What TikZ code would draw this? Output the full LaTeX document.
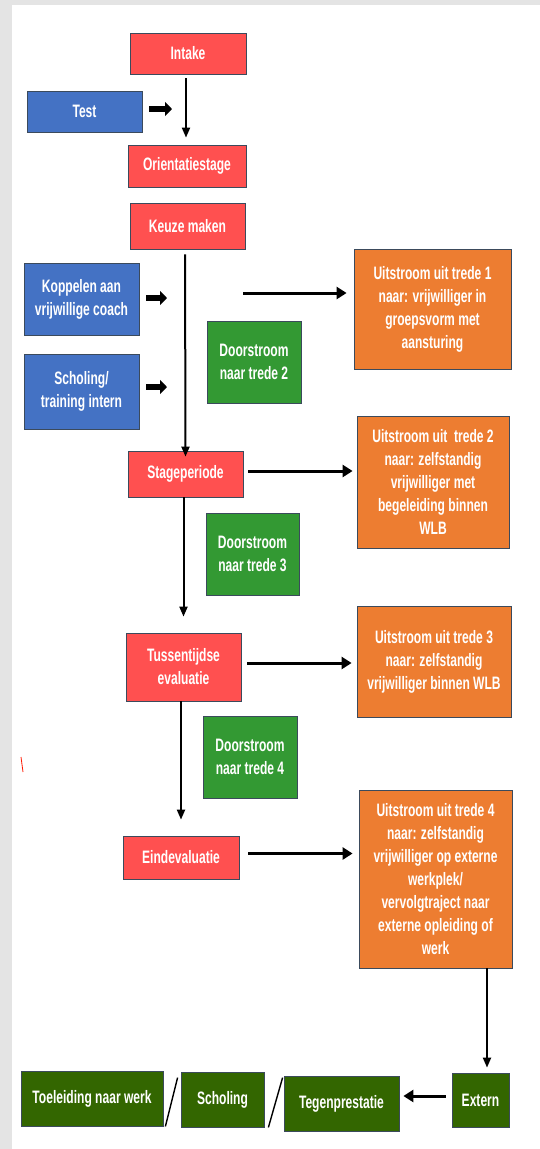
\documentclass[tikz,border=0pt]{standalone}
\usepackage{fontspec}
\setmainfont[FakeStretch=0.67]{Liberation Sans}
\usepackage{xcolor}
\usepackage{tikz}
\usetikzlibrary{arrows.meta, positioning, calc}

\definecolor{stepred}{HTML}{FF5050}
\definecolor{stepblue}{HTML}{4472C4}
\definecolor{steporange}{HTML}{ED7D31}
\definecolor{stepgreen}{HTML}{339933}
\definecolor{stepdark}{HTML}{336600}
\definecolor{boxline}{HTML}{3B4A5C}
\definecolor{pagegray}{HTML}{E4E4E4}

\begin{document}
\begin{tikzpicture}[
    x=1pt, y=-1pt,
    box/.style={draw=boxline, line width=0.8pt, text=white, align=center, inner sep=0pt,
        font=\bfseries\fontsize{18}{23}\selectfont},
    redbox/.style={box, fill=stepred},
    bluebox/.style={box, fill=stepblue},
    orangebox/.style={box, fill=steporange},
    greenbox/.style={box, fill=stepgreen},
    darkbox/.style={box, fill=stepdark},
    flow/.style={line width=2pt, -{Triangle[length=10pt,width=8pt]}},
    outflow/.style={line width=3pt, -{Triangle[length=10pt,width=12pt]}},
    fat/.style={line width=6pt, -{Triangle[length=7pt,width=14pt]}},
    slash/.style={line width=1.4pt}
]
    % Page
    \useasboundingbox (0,0) rectangle (540,1149);
    \fill[pagegray] (0,0) rectangle (540,1149);
    \fill[white] (12,5) rectangle (540,1149);

    % Route
    \node[redbox, minimum width=116pt, minimum height=41pt] (intake) at (188,53.5) {Intake};
    \node[bluebox, minimum width=115pt, minimum height=41pt] (test) at (84.5,111.5) {Test};
    \node[redbox, minimum width=118pt, minimum height=42pt] (orient) at (187,166) {Orientatiestage};
    \node[redbox, minimum width=115pt, minimum height=46pt] (keuze) at (187.5,226) {Keuze maken};
    \node[bluebox, minimum width=115pt, minimum height=72pt] (koppel) at (81.5,299) {Koppelen aan\\vrijwillige coach};
    \node[bluebox, minimum width=115pt, minimum height=75pt] (scholing) at (81.5,391.5) {Scholing/\\training intern};
    \node[redbox, minimum width=115pt, minimum height=46pt] (stage) at (185.5,474) {Stageperiode};
    \node[redbox, minimum width=115pt, minimum height=68pt] (tussen) at (183.5,667) {Tussentijdse\\evaluatie};
    \node[redbox, minimum width=116pt, minimum height=43pt] (einde) at (181,857.5) {Eindevaluatie};

    % Doorstroom
    \node[greenbox, minimum width=94pt, minimum height=82pt] (door2) at (254,362) {Doorstroom\\naar trede 2};
    \node[greenbox, minimum width=93pt, minimum height=82pt] (door3) at (252.5,554) {Doorstroom\\naar trede 3};
    \node[greenbox, minimum width=94pt, minimum height=82pt] (door4) at (250,757) {Doorstroom\\naar trede 4};

    % Uitstroom
    \node[orangebox, minimum width=157pt, minimum height=120pt] (uit1) at (432.5,309)
        {Uitstroom uit trede 1\\naar: vrijwilliger in\\groepsvorm met\\aansturing};
    \node[orangebox, minimum width=152pt, minimum height=132pt] (uit2) at (433,482)
        {Uitstroom uit\ \ trede 2\\naar: zelfstandig\\vrijwilliger met\\begeleiding binnen\\WLB};
    \node[orangebox, minimum width=154pt, minimum height=111pt] (uit3) at (434,661.5)
        {Uitstroom uit trede 3\\naar: zelfstandig\\vrijwilliger binnen WLB};
    \node[orangebox, minimum width=153pt, minimum height=178pt] (uit4) at (435.5,879)
        {Uitstroom uit trede 4\\naar: zelfstandig\\vrijwilliger op externe\\werkplek/\\vervolgtraject naar\\externe opleiding of\\werk};

    % Extern
    \node[darkbox, minimum width=57pt, minimum height=54pt] (extern) at (480.5,1100) {Extern};
    \node[darkbox, minimum width=115pt, minimum height=55pt] (tegen) at (341.5,1103.5) {Tegenprestatie};
    \node[darkbox, minimum width=83pt, minimum height=55pt] (schol) at (222.5,1099.5) {Scholing};
    \node[darkbox, minimum width=142pt, minimum height=55pt] (toeleiding) at (92,1098.5) {Toeleiding naar werk};

    % Arrows
    \coordinate (testtip) at (172,109);
    \coordinate (koppeltip) at (167,298);
    \coordinate (scholtip) at (167,387);
    \coordinate (uit1start) at (243,293);
    \draw[fat, shorten <=7pt] (test.east |- testtip) -- (testtip);
    \draw[fat, shorten <=7pt] (koppel.east |- koppeltip) -- (koppeltip);
    \draw[fat, shorten <=7pt] (scholing.east |- scholtip) -- (scholtip);

    \draw[flow, shorten <=4pt, shorten >=7pt] ([xshift=-2pt]intake.south) -- ([xshift=-1pt]orient.north);
    \draw[flow, shorten <=5pt, shorten >=-6pt] ([xshift=-2.5pt]keuze.south) -- (stage.north);
    \draw[flow, shorten >=16pt] (stage.south -| tussen.north) -- (tussen.north);
    \draw[flow, shorten >=16pt] (tussen.south -| einde.north) -- (einde.north);

    \draw[outflow, shorten >=7pt] (uit1start) -- (uit1start -| uit1.west);
    \draw[outflow, shorten <=5pt, shorten >=4pt] ([yshift=3pt]stage.east) -- ([yshift=3pt]stage.east -| uit2.west);
    \draw[outflow, shorten <=6pt, shorten >=5pt] ([yshift=4pt]tussen.east) -- ([yshift=4pt]tussen.east -| uit3.west);
    \draw[outflow, shorten <=9pt, shorten >=6pt] ([yshift=4pt]einde.east) -- ([yshift=4pt]einde.east -| uit4.west);

    \draw[flow, shorten >=5pt] ([xshift=51.5pt]uit4.south) -- ([xshift=6.5pt]extern.north);
    \draw[outflow, shorten <=6pt, shorten >=4pt] ([yshift=4pt]extern.west) -- ([yshift=4pt]extern.west -| tegen.east);

    % Slashes
    \draw[slash] ([xshift=2pt]toeleiding.south east) -- ([xshift=-3pt,yshift=-6pt]schol.north west);
    \draw[slash] ([xshift=4pt]schol.south east) -- ([xshift=-1pt,yshift=-2pt]tegen.north west);

    % Stray mark
    \draw[red!80!orange, line width=0.8pt] (21,757) -- (23,772);
\end{tikzpicture}
\end{document}
